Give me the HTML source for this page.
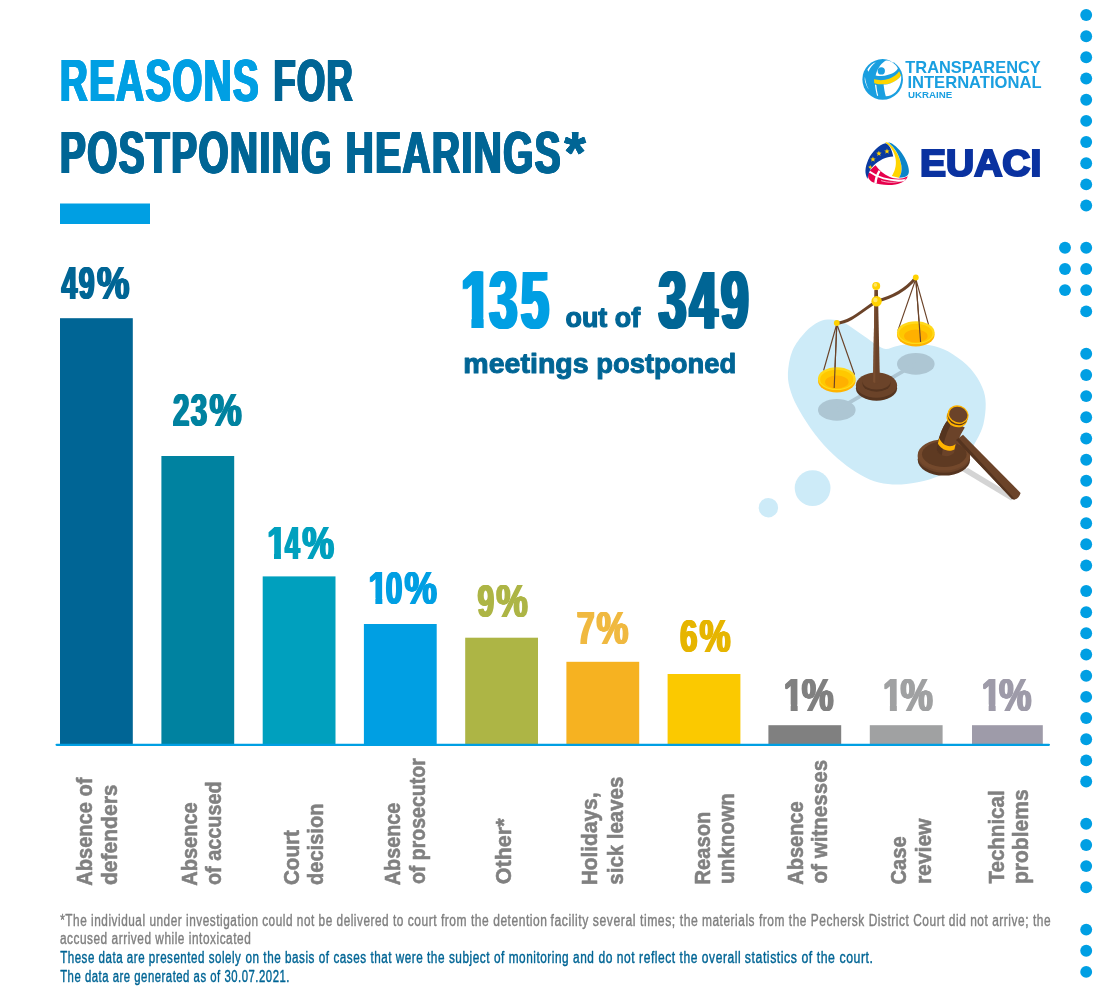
<!DOCTYPE html>
<html lang="en"><head><meta charset="utf-8"><title>Reasons for postponing hearings</title>
<style>
html,body{margin:0;padding:0;background:#fff;}
svg{display:block;}
text{font-family:"Liberation Sans",sans-serif;font-weight:bold;}
text.r{font-weight:normal;}
</style></head><body>
<svg width="1100" height="1000" viewBox="0 0 1100 1000">
<rect width="1100" height="1000" fill="#fff"/>
<defs><filter id="s5" x="-25%" y="-10%" width="150%" height="120%"><feOffset in="SourceGraphic" dx="-0.5" result="a"/><feOffset in="SourceGraphic" dx="-0.25" result="c"/><feOffset in="SourceGraphic" dx="0.25" result="e"/><feOffset in="SourceGraphic" dx="0.5" result="b"/><feMerge><feMergeNode in="a"/><feMergeNode in="c"/><feMergeNode in="SourceGraphic"/><feMergeNode in="e"/><feMergeNode in="b"/></feMerge></filter><filter id="s9" x="-25%" y="-10%" width="150%" height="120%"><feOffset in="SourceGraphic" dx="-0.9" result="a"/><feOffset in="SourceGraphic" dx="-0.45" result="c"/><feOffset in="SourceGraphic" dx="0.45" result="e"/><feOffset in="SourceGraphic" dx="0.9" result="b"/><feMerge><feMergeNode in="a"/><feMergeNode in="c"/><feMergeNode in="SourceGraphic"/><feMergeNode in="e"/><feMergeNode in="b"/></feMerge></filter><filter id="s12" x="-25%" y="-10%" width="150%" height="120%"><feOffset in="SourceGraphic" dx="-1.2" result="a"/><feOffset in="SourceGraphic" dx="-0.6" result="c"/><feOffset in="SourceGraphic" dx="0.6" result="e"/><feOffset in="SourceGraphic" dx="1.2" result="b"/><feMerge><feMergeNode in="a"/><feMergeNode in="c"/><feMergeNode in="SourceGraphic"/><feMergeNode in="e"/><feMergeNode in="b"/></feMerge></filter><filter id="s21" x="-25%" y="-10%" width="150%" height="120%"><feOffset in="SourceGraphic" dx="-2.1" result="a"/><feOffset in="SourceGraphic" dx="-1.05" result="c"/><feOffset in="SourceGraphic" dx="1.05" result="e"/><feOffset in="SourceGraphic" dx="2.1" result="b"/><feMerge><feMergeNode in="a"/><feMergeNode in="c"/><feMergeNode in="SourceGraphic"/><feMergeNode in="e"/><feMergeNode in="b"/></feMerge></filter><clipPath id="c0"><polygon points="266.42,513.90 288.07,513.90 288.07,553.26 280.95,553.26 280.95,561.40 273.97,561.40 273.97,553.26 266.42,553.26"/></clipPath><clipPath id="c1"><polygon points="367.82,558.90 389.47,558.90 389.47,598.26 382.35,598.26 382.35,606.40 375.37,606.40 375.37,598.26 367.82,598.26"/></clipPath><clipPath id="c2"><polygon points="783.12,665.20 804.77,665.20 804.77,704.56 797.65,704.56 797.65,712.70 790.67,712.70 790.67,704.56 783.12,704.56"/></clipPath><clipPath id="c3"><polygon points="882.32,665.20 903.97,665.20 903.97,704.56 896.85,704.56 896.85,712.70 889.87,712.70 889.87,704.56 882.32,704.56"/></clipPath><clipPath id="c4"><polygon points="981.12,665.20 1002.77,665.20 1002.77,704.56 995.65,704.56 995.65,712.70 988.67,712.70 988.67,704.56 981.12,704.56"/></clipPath><clipPath id="c5"><polygon points="460.31,246.60 494.06,246.60 494.06,317.83 483.65,317.83 483.65,329.60 471.41,329.60 471.41,317.83 460.31,317.83"/></clipPath></defs>
<g id="illus">
<path d="M787.9,373.6C788.2,366.7 789.6,357.5 792.5,350.6C795.4,343.7 800.8,337.0 805.2,332.2C809.6,327.4 814.8,323.9 819.0,321.8C823.2,319.7 826.7,319.5 830.5,319.5C834.3,319.5 838.2,320.3 842.0,321.8C845.8,323.3 849.7,326.2 853.5,328.7C857.3,331.2 861.2,334.1 865.0,336.8C868.8,339.5 873.0,342.8 876.5,344.8C880.0,346.8 882.2,348.8 885.7,349.0C889.2,349.2 893.0,346.8 897.2,346.0C901.4,345.2 904.9,344.3 911.0,344.3C917.1,344.3 927.1,344.4 934.0,346.0C940.9,347.6 946.3,350.2 952.4,354.0C958.5,357.8 965.8,363.4 970.8,369.0C975.8,374.6 979.8,381.6 982.3,387.4C984.8,393.1 985.5,397.4 985.7,403.5C985.9,409.6 984.9,418.1 983.4,424.2C981.9,430.3 979.4,434.9 976.5,440.3C973.6,445.7 970.6,451.4 966.2,456.4C961.8,461.4 956.2,466.4 950.1,470.2C944.0,474.0 936.7,477.1 929.4,479.4C922.1,481.7 913.3,483.2 906.4,484.0C899.5,484.8 894.1,484.8 888.0,484.0C881.9,483.2 875.7,481.9 869.6,479.4C863.5,476.9 857.3,473.2 851.2,469.0C845.1,464.8 838.9,460.0 832.8,454.1C826.7,448.2 820.0,440.7 814.4,433.4C808.8,426.1 803.3,417.3 799.4,410.4C795.5,403.5 792.8,398.1 790.9,392.0C789.0,385.9 787.6,380.5 787.9,373.6Z" fill="#cdebf8"/>
<circle cx="812.6" cy="488.1" r="17.9" fill="#cdebf8"/><circle cx="768.4" cy="507.7" r="9.7" fill="#cdebf8"/>
<g fill="#adc6d3"><ellipse cx="915.8" cy="363.9" rx="18.8" ry="10.8"/><ellipse cx="836.8" cy="409.9" rx="18.8" ry="10.8"/></g>
<path d="M836.8,409.9L915.8,363.9" stroke="#adc6d3" stroke-width="3.6" fill="none"/>
<ellipse cx="876.5" cy="388.2" rx="20.6" ry="12.6" fill="#55341f"/>
<ellipse cx="876.5" cy="385.2" rx="20.6" ry="12.6" fill="#6b4329"/>
<ellipse cx="876.5" cy="383.4" rx="14" ry="8.4" fill="#55341f"/>
<ellipse cx="876.5" cy="381.2" rx="14" ry="8.4" fill="#6b4329"/>
<path d="M874.6,290 L877.9,290 L879.9,382 Q876.5,384.5 873.1,382 Z" fill="#6b4329"/>
<path d="M874.6,290 L875.8,290 L875.3,383 Q874,383 873.1,382 Z" fill="#7a4e30"/>
<path d="M836.8,323.2 C850,322.5 861,311.5 876.5,301.2 C892,297.5 905,291 915.8,277.8" stroke="#6b4329" stroke-width="3" fill="none" stroke-linecap="round"/>
<g stroke="#6b4329" stroke-width="1.15" fill="none"><path d="M836.8,324 L823.6,370.5 M836.8,324 L834.2,388 M836.8,324 L854.6,374.8"/>
<path d="M915.8,279 L897.9,330.6 M915.8,279 L920.6,342 M915.8,279 L928.8,325.6"/></g>
<ellipse cx="836.8" cy="380.8" rx="18.8" ry="11.6" fill="#ffb400"/><ellipse cx="836.8" cy="378.6" rx="18.8" ry="11.4" fill="#ffd91a"/><ellipse cx="836.8" cy="379.40000000000003" rx="16.6" ry="9.6" fill="#ffc800"/><ellipse cx="836.8" cy="382.0" rx="11.8" ry="6.4" fill="#ffb000"/>
<ellipse cx="915.8" cy="334.8" rx="18.8" ry="11.6" fill="#ffb400"/><ellipse cx="915.8" cy="332.6" rx="18.8" ry="11.4" fill="#ffd91a"/><ellipse cx="915.8" cy="333.40000000000003" rx="16.6" ry="9.6" fill="#ffc800"/><ellipse cx="915.8" cy="336.0" rx="11.8" ry="6.4" fill="#ffb000"/>
<g stroke="#6b4329" stroke-width="1.15" fill="none"><path d="M836.8,324 L834.2,388"/><path d="M915.8,279 L920.6,342"/></g>
<g fill="#ffd200"><circle cx="876.2" cy="285.9" r="4"/><circle cx="876.6" cy="301.3" r="5.2"/><circle cx="915.8" cy="277.5" r="2.9"/><circle cx="836.8" cy="323" r="2.9"/></g>
<g fill="#ffe566"><circle cx="875.4" cy="284.9" r="1.8"/><circle cx="875.4" cy="300" r="2.2"/></g>
<path d="M962,471 L1011,500.5 L1016,497 L968,468 Z" fill="#d4d4d4"/>
<ellipse cx="943.9" cy="459.6" rx="26.2" ry="16" fill="#55341f"/>
<ellipse cx="943.9" cy="456.8" rx="26.2" ry="16" fill="#6b4329"/>
<ellipse cx="943.9" cy="455" rx="26.2" ry="15.6" fill="#74492c"/>
<ellipse cx="944.3" cy="454.2" rx="22.3" ry="12.8" fill="#5e3a22"/>
<path d="M948.5,419 C941,428 938,440 936.5,450 C940,457 949,458 954,453 C956,445 959,437 964.8,427.5 Z" fill="#6b4329"/>
<path d="M948.5,419 C941,428 938,440 936.5,450 C938,453 940,454.5 942,455 C943,443 947,430 953,421 Z" fill="#55341f"/>
<path d="M939.2,438 C942,445 950,449 955.6,444 L954.4,449.4 C948,453 940.6,449 937.9,443.6 Z" fill="#ffb400"/>
<path d="M956,440 L1012,499 Q1018,501 1020.6,493 L963,434.8 Z" fill="#6b4329"/>
<path d="M956,440 L1012,499 Q1013.6,499.6 1015,499.3 L958.6,438 Z" fill="#55341f"/>
<ellipse cx="957.0" cy="418.0" rx="10.7" ry="9.1" fill="#ffb400" transform="rotate(20 957 418)"/>
<ellipse cx="957.6" cy="416.4" rx="10.3" ry="8.7" fill="#55341f" transform="rotate(20 957.6 416.4)"/>
<ellipse cx="958.1" cy="414.6" rx="10.7" ry="9.1" fill="#ffb400" transform="rotate(20 958.1 414.6)"/>
<ellipse cx="958.3" cy="414.6" rx="9.3" ry="7.7" fill="#6b4329" transform="rotate(20 958.3 414.6)"/>
</g>
<g id="ti" transform="translate(855,52) scale(0.055)">
<circle cx="503" cy="498" r="369" fill="#1a9fe0"/>
<path d="M545,162 C590,150 625,160 650,172 L700,205 C740,235 765,265 778,300 C740,370 640,425 480,437 C440,437 400,432 375,425 C395,330 450,230 545,162 Z" fill="#fff"/>
<path d="M630,150 L700,205 L690,150 Z" fill="#fff"/>
<circle cx="478" cy="345" r="66" fill="#1a9fe0"/>
<path d="M345,497 C440,520 540,515 620,488 C700,460 770,410 803,352 L838,425 C800,490 730,540 650,567 C560,595 450,597 350,566 Z" fill="#ffd500"/>
<path d="M520,592 C570,590 610,580 650,567 C730,540 800,490 838,428 C850,520 820,640 740,725 C690,775 620,805 560,806 C540,740 528,660 520,592 Z" fill="#fff"/>
<path d="M225,322 C260,260 320,205 378,188 C320,230 270,295 245,358 Z" fill="#fff"/>
<path d="M180,452 C190,540 215,620 250,682 C215,640 185,560 176,500 Z" fill="#fff"/>
<path d="M363,590 L388,598 C395,670 405,735 422,792 L402,800 C385,735 370,660 363,590 Z" fill="#fff"/>
</g>
<g id="eu" transform="translate(858,135) scale(0.055)">
<path d="M320,548 C380,640 470,715 580,765 C680,805 800,810 905,750 C880,830 800,880 680,900 C540,925 380,905 270,860 C200,825 170,760 185,690 C215,640 265,590 320,548 Z" fill="#e6004c"/>
<path d="M392,650 C350,720 320,800 318,880" stroke="#fff" stroke-width="44" fill="none"/>
<path d="M205,665 C330,760 560,850 850,822" stroke="#fff" stroke-width="34" fill="none"/>
<path d="M420,830 C540,870 700,880 870,800" stroke="#fff" stroke-width="12" fill="none"/>
<path d="M175,800 C120,700 120,600 190,440 C260,300 380,180 500,150 C570,170 620,270 640,392 C520,390 380,460 280,560 C210,630 180,710 175,800 Z" fill="#0a3aa0"/>
<polygon points="527,246 540,280 576,282 548,305 558,340 527,320 496,340 506,305 478,282 514,280" fill="#ffd200"/>
<polygon points="380,286 393,320 429,322 401,345 411,380 380,360 349,380 359,345 331,322 367,320" fill="#ffd200"/>
<polygon points="272,391 285,425 321,427 293,450 303,485 272,465 241,485 251,450 223,427 259,425" fill="#ffd200"/>
<polygon points="222,545 236,575 262,578 240,598 222,620 200,590 185,575 210,572" fill="#ffd200"/>
<path d="M495,135 C530,125 560,140 600,180 C680,260 760,400 790,560 C800,660 780,730 742,778 L615,745 C670,660 700,560 685,440 C670,330 610,210 495,135 Z" fill="#ffd500"/>
<path d="M545,128 C640,150 740,240 830,380 C890,480 930,590 925,670 C920,740 880,775 745,778 C785,720 800,650 790,560 C765,400 690,260 600,180 C580,160 560,140 545,128 Z" fill="#0a85c9"/>
</g>
<text x="60.04" y="101.00" font-size="59.60" fill="#009fe3" textLength="199.99" lengthAdjust="spacingAndGlyphs" filter="url(#s12)" letter-spacing="2.38">REASONS</text>
<text x="273.38" y="101.00" font-size="59.60" fill="#006595" textLength="80.60" lengthAdjust="spacingAndGlyphs" filter="url(#s12)" letter-spacing="2.38">FOR</text>
<text x="59.92" y="173.00" font-size="59.60" fill="#006595" textLength="272.82" lengthAdjust="spacingAndGlyphs" filter="url(#s12)" letter-spacing="2.38">POSTPONING</text>
<text x="345.81" y="173.00" font-size="59.60" fill="#006595" textLength="216.34" lengthAdjust="spacingAndGlyphs" filter="url(#s12)" letter-spacing="2.38">HEARINGS</text>
<text x="563.94" y="173.00" font-size="59.60" fill="#006595" textLength="21.41" lengthAdjust="spacingAndGlyphs" filter="url(#s5)">*</text>
<rect x="60" y="203.5" width="90" height="20.5" fill="#009fe3"/>
<rect x="60" y="318.2" width="72.8" height="426.3" fill="#006595"/>
<rect x="161.4" y="456" width="72.8" height="288.5" fill="#0082a0"/>
<rect x="262.7" y="576.4" width="72.8" height="168.1" fill="#00a0be"/>
<rect x="363.9" y="624" width="72.8" height="120.5" fill="#009fe3"/>
<rect x="465.2" y="637.7" width="72.8" height="106.8" fill="#adb545"/>
<rect x="566.4" y="661.8" width="72.8" height="82.7" fill="#f6b221"/>
<rect x="667.6" y="674" width="72.8" height="70.5" fill="#fbc900"/>
<rect x="768.4" y="725.2" width="72.8" height="19.3" fill="#808080"/>
<rect x="869.8" y="725.2" width="72.8" height="19.3" fill="#a0a1a2"/>
<rect x="972" y="725.2" width="70.8" height="19.3" fill="#9e9ba9"/>
<line x1="56.6" y1="744.85" x2="1048.9" y2="744.85" stroke="#009fe3" stroke-width="2.3" stroke-linecap="round"/>
<text x="61.47" y="299.40" font-size="45.50" fill="#006595" textLength="34.51" lengthAdjust="spacingAndGlyphs" filter="url(#s9)" letter-spacing="2.27">49</text>
<text x="96.99" y="299.40" font-size="45.50" fill="#006595" textLength="32.47" lengthAdjust="spacingAndGlyphs" filter="url(#s9)">%</text>
<text x="172.88" y="426.00" font-size="45.50" fill="#0082a0" textLength="35.76" lengthAdjust="spacingAndGlyphs" filter="url(#s9)" letter-spacing="2.27">23</text>
<text x="209.40" y="426.00" font-size="45.50" fill="#0082a0" textLength="32.26" lengthAdjust="spacingAndGlyphs" filter="url(#s9)">%</text>
<g clip-path="url(#c0)"><text x="267.17" y="559.40" font-size="45.50" fill="#00a0be" textLength="18.95" lengthAdjust="spacingAndGlyphs" filter="url(#s9)">1</text></g>
<text x="285.10" y="559.40" font-size="45.50" fill="#00a0be" textLength="16.07" lengthAdjust="spacingAndGlyphs" filter="url(#s9)" letter-spacing="2.27">4</text>
<text x="302.21" y="559.40" font-size="45.50" fill="#00a0be" textLength="31.84" lengthAdjust="spacingAndGlyphs" filter="url(#s9)">%</text>
<g clip-path="url(#c1)"><text x="368.57" y="604.40" font-size="45.50" fill="#009fe3" textLength="18.95" lengthAdjust="spacingAndGlyphs" filter="url(#s9)">1</text></g>
<text x="385.72" y="604.40" font-size="45.50" fill="#009fe3" textLength="18.10" lengthAdjust="spacingAndGlyphs" filter="url(#s9)" letter-spacing="2.27">0</text>
<text x="404.59" y="604.40" font-size="45.50" fill="#009fe3" textLength="32.47" lengthAdjust="spacingAndGlyphs" filter="url(#s9)">%</text>
<text x="477.56" y="617.00" font-size="45.50" fill="#adb545" textLength="18.15" lengthAdjust="spacingAndGlyphs" filter="url(#s9)" letter-spacing="2.27">9</text>
<text x="496.32" y="617.00" font-size="45.50" fill="#adb545" textLength="31.52" lengthAdjust="spacingAndGlyphs" filter="url(#s9)">%</text>
<text x="576.82" y="643.60" font-size="45.50" fill="#f0b941" textLength="19.51" lengthAdjust="spacingAndGlyphs" filter="url(#s9)" letter-spacing="2.27">7</text>
<text x="596.41" y="643.60" font-size="45.50" fill="#f0b941" textLength="31.94" lengthAdjust="spacingAndGlyphs" filter="url(#s9)">%</text>
<text x="680.05" y="652.40" font-size="45.50" fill="#e6b500" textLength="19.06" lengthAdjust="spacingAndGlyphs" filter="url(#s9)" letter-spacing="2.27">6</text>
<text x="699.43" y="652.40" font-size="45.50" fill="#e6b500" textLength="31.09" lengthAdjust="spacingAndGlyphs" filter="url(#s9)">%</text>
<g clip-path="url(#c2)"><text x="783.87" y="710.70" font-size="45.50" fill="#808080" textLength="18.95" lengthAdjust="spacingAndGlyphs" filter="url(#s9)">1</text></g>
<text x="801.81" y="710.70" font-size="45.50" fill="#808080" textLength="31.84" lengthAdjust="spacingAndGlyphs" filter="url(#s9)">%</text>
<g clip-path="url(#c3)"><text x="883.07" y="710.70" font-size="45.50" fill="#a0a1a2" textLength="18.95" lengthAdjust="spacingAndGlyphs" filter="url(#s9)">1</text></g>
<text x="900.59" y="710.70" font-size="45.50" fill="#a0a1a2" textLength="32.37" lengthAdjust="spacingAndGlyphs" filter="url(#s9)">%</text>
<g clip-path="url(#c4)"><text x="981.87" y="710.70" font-size="45.50" fill="#9e9ba9" textLength="18.95" lengthAdjust="spacingAndGlyphs" filter="url(#s9)">1</text></g>
<text x="998.99" y="710.70" font-size="45.50" fill="#9e9ba9" textLength="32.47" lengthAdjust="spacingAndGlyphs" filter="url(#s9)">%</text>
<g clip-path="url(#c5)"><text x="460.95" y="327.60" font-size="81.00" fill="#009fe3" textLength="30.55" lengthAdjust="spacingAndGlyphs" filter="url(#s21)">1</text></g>
<text x="489.55" y="327.60" font-size="81.00" fill="#009fe3" textLength="62.75" lengthAdjust="spacingAndGlyphs" filter="url(#s21)" letter-spacing="5.67">35</text>
<text x="565.55" y="327.10" font-size="27.80" fill="#006595" textLength="74.60" lengthAdjust="spacingAndGlyphs" stroke="#006595" stroke-width="1.2" stroke-linejoin="round">out of</text>
<text x="658.66" y="327.60" font-size="81.00" fill="#006595" textLength="93.36" lengthAdjust="spacingAndGlyphs" filter="url(#s21)" letter-spacing="5.67">349</text>
<text x="463.32" y="372.90" font-size="28.30" fill="#006595" textLength="125.35" lengthAdjust="spacingAndGlyphs" stroke="#006595" stroke-width="1.0" stroke-linejoin="round">meetings</text>
<text x="596.19" y="372.90" font-size="28.30" fill="#006595" textLength="140.11" lengthAdjust="spacingAndGlyphs" stroke="#006595" stroke-width="1.0" stroke-linejoin="round">postponed</text>
<text transform="translate(91.92,885.72) rotate(-90)" font-size="22.40" fill="#808080" textLength="108.11" lengthAdjust="spacingAndGlyphs" stroke="#808080" stroke-width="0.55" stroke-linejoin="round">Absence of</text>
<text transform="translate(117.02,885.09) rotate(-90)" font-size="22.40" fill="#808080" textLength="100.68" lengthAdjust="spacingAndGlyphs" stroke="#808080" stroke-width="0.55" stroke-linejoin="round">defenders</text>
<text transform="translate(197.03,885.72) rotate(-90)" font-size="22.40" fill="#808080" textLength="83.43" lengthAdjust="spacingAndGlyphs" stroke="#808080" stroke-width="0.55" stroke-linejoin="round">Absence</text>
<text transform="translate(221.22,885.00) rotate(-90)" font-size="22.40" fill="#808080" textLength="103.63" lengthAdjust="spacingAndGlyphs" stroke="#808080" stroke-width="0.55" stroke-linejoin="round">of accused</text>
<text transform="translate(298.73,885.07) rotate(-90)" font-size="22.40" fill="#808080" textLength="55.05" lengthAdjust="spacingAndGlyphs" stroke="#808080" stroke-width="0.55" stroke-linejoin="round">Court</text>
<text transform="translate(323.33,885.05) rotate(-90)" font-size="22.40" fill="#808080" textLength="81.52" lengthAdjust="spacingAndGlyphs" stroke="#808080" stroke-width="0.55" stroke-linejoin="round">decision</text>
<text transform="translate(400.23,885.22) rotate(-90)" font-size="22.40" fill="#808080" textLength="82.62" lengthAdjust="spacingAndGlyphs" stroke="#808080" stroke-width="0.55" stroke-linejoin="round">Absence</text>
<text transform="translate(424.73,884.09) rotate(-90)" font-size="22.40" fill="#808080" textLength="125.91" lengthAdjust="spacingAndGlyphs" stroke="#808080" stroke-width="0.55" stroke-linejoin="round">of prosecutor</text>
<text transform="translate(510.73,884.21) rotate(-90)" font-size="22.40" fill="#808080" textLength="65.75" lengthAdjust="spacingAndGlyphs" stroke="#808080" stroke-width="0.55" stroke-linejoin="round">Other*</text>
<text transform="translate(597.43,885.32) rotate(-90)" font-size="22.40" fill="#808080" textLength="92.84" lengthAdjust="spacingAndGlyphs" stroke="#808080" stroke-width="0.55" stroke-linejoin="round">Holidays,</text>
<text transform="translate(622.52,884.64) rotate(-90)" font-size="22.40" fill="#808080" textLength="107.91" lengthAdjust="spacingAndGlyphs" stroke="#808080" stroke-width="0.55" stroke-linejoin="round">sick leaves</text>
<text transform="translate(709.73,884.57) rotate(-90)" font-size="22.40" fill="#808080" textLength="72.85" lengthAdjust="spacingAndGlyphs" stroke="#808080" stroke-width="0.55" stroke-linejoin="round">Reason</text>
<text transform="translate(733.73,884.01) rotate(-90)" font-size="22.40" fill="#808080" textLength="91.02" lengthAdjust="spacingAndGlyphs" stroke="#808080" stroke-width="0.55" stroke-linejoin="round">unknown</text>
<text transform="translate(803.33,884.72) rotate(-90)" font-size="22.40" fill="#808080" textLength="83.33" lengthAdjust="spacingAndGlyphs" stroke="#808080" stroke-width="0.55" stroke-linejoin="round">Absence</text>
<text transform="translate(827.33,883.53) rotate(-90)" font-size="22.40" fill="#808080" textLength="123.70" lengthAdjust="spacingAndGlyphs" stroke="#808080" stroke-width="0.55" stroke-linejoin="round">of witnesses</text>
<text transform="translate(906.43,884.55) rotate(-90)" font-size="22.40" fill="#808080" textLength="48.27" lengthAdjust="spacingAndGlyphs" stroke="#808080" stroke-width="0.55" stroke-linejoin="round">Case</text>
<text transform="translate(930.73,884.11) rotate(-90)" font-size="22.40" fill="#808080" textLength="65.60" lengthAdjust="spacingAndGlyphs" stroke="#808080" stroke-width="0.55" stroke-linejoin="round">review</text>
<text transform="translate(1004.02,883.55) rotate(-90)" font-size="22.40" fill="#808080" textLength="93.21" lengthAdjust="spacingAndGlyphs" stroke="#808080" stroke-width="0.55" stroke-linejoin="round">Technical</text>
<text transform="translate(1028.32,884.11) rotate(-90)" font-size="22.40" fill="#808080" textLength="94.70" lengthAdjust="spacingAndGlyphs" stroke="#808080" stroke-width="0.55" stroke-linejoin="round">problems</text>
<text y="926.10" font-size="15.60" fill="#808080" class="r" stroke="#808080" stroke-width="0.4" stroke-linejoin="round" letter-spacing="0.70"><tspan x="60.21" textLength="198.39" lengthAdjust="spacingAndGlyphs">*The individual under investigation</tspan> <tspan x="262.20" textLength="141.63" lengthAdjust="spacingAndGlyphs">could not be delivered to</tspan> <tspan x="407.69" textLength="139.73" lengthAdjust="spacingAndGlyphs">court from the detention</tspan> <tspan x="550.53" textLength="147.87" lengthAdjust="spacingAndGlyphs">facility several times; the</tspan> <tspan x="701.91" textLength="162.91" lengthAdjust="spacingAndGlyphs">materials from the Pechersk</tspan> <tspan x="868.72" textLength="182.34" lengthAdjust="spacingAndGlyphs">District Court did not arrive; the</tspan></text>
<text y="944.30" font-size="15.60" fill="#808080" class="r" stroke="#808080" stroke-width="0.4" stroke-linejoin="round" letter-spacing="0.70"><tspan x="59.90" textLength="191.40" lengthAdjust="spacingAndGlyphs">accused arrived while intoxicated</tspan></text>
<text y="963.40" font-size="15.60" fill="#006595" class="r" stroke="#006595" stroke-width="0.4" stroke-linejoin="round" letter-spacing="0.70"><tspan x="60.14" textLength="181.20" lengthAdjust="spacingAndGlyphs">These data are presented solely</tspan> <tspan x="245.51" textLength="177.84" lengthAdjust="spacingAndGlyphs">on the basis of cases that were</tspan> <tspan x="427.02" textLength="167.37" lengthAdjust="spacingAndGlyphs">the subject of monitoring and</tspan> <tspan x="598.49" textLength="142.65" lengthAdjust="spacingAndGlyphs">do not reflect the overall</tspan> <tspan x="744.86" textLength="128.62" lengthAdjust="spacingAndGlyphs">statistics of the court.</tspan></text>
<text y="982.00" font-size="15.60" fill="#006595" class="r" stroke="#006595" stroke-width="0.4" stroke-linejoin="round" letter-spacing="0.70"><tspan x="60.15" textLength="229.80" lengthAdjust="spacingAndGlyphs">The data are generated as of 30.07.2021.</tspan></text>
<text x="905.32" y="72.70" font-size="16.30" fill="#1a9fe0" textLength="135.44" lengthAdjust="spacingAndGlyphs">TRANSPARENCY</text>
<text x="907.40" y="88.10" font-size="16.30" fill="#1a9fe0" textLength="134.20" lengthAdjust="spacingAndGlyphs">INTERNATIONAL</text>
<text x="907.92" y="98.40" font-size="9.00" fill="#1a9fe0" textLength="44.26" lengthAdjust="spacingAndGlyphs">UKRAINE</text>
<text x="920.09" y="175.90" font-size="36.90" fill="#0a32a0" textLength="121.21" lengthAdjust="spacingAndGlyphs" stroke="#0a32a0" stroke-width="2.2" stroke-linejoin="miter">EUACI</text>
<g fill="#009fe3"><circle cx="1086.2" cy="15.0" r="5.95"/><circle cx="1086.2" cy="36.2" r="5.95"/><circle cx="1086.2" cy="57.3" r="5.95"/><circle cx="1086.2" cy="78.5" r="5.95"/><circle cx="1086.2" cy="99.7" r="5.95"/><circle cx="1086.2" cy="120.9" r="5.95"/><circle cx="1086.2" cy="142.0" r="5.95"/><circle cx="1086.2" cy="163.2" r="5.95"/><circle cx="1086.2" cy="184.4" r="5.95"/><circle cx="1086.2" cy="205.5" r="5.95"/><circle cx="1065" cy="247.8" r="5.95"/><circle cx="1086.2" cy="247.8" r="5.95"/><circle cx="1065" cy="269.0" r="5.95"/><circle cx="1086.2" cy="269.0" r="5.95"/><circle cx="1065" cy="290.1" r="5.95"/><circle cx="1086.2" cy="290.1" r="5.95"/><circle cx="1086.2" cy="311.4" r="5.95"/><circle cx="1086.2" cy="353.8" r="5.95"/><circle cx="1086.2" cy="375.0" r="5.95"/><circle cx="1086.2" cy="396.1" r="5.95"/><circle cx="1086.2" cy="417.3" r="5.95"/><circle cx="1086.2" cy="438.5" r="5.95"/><circle cx="1086.2" cy="459.7" r="5.95"/><circle cx="1086.2" cy="480.8" r="5.95"/><circle cx="1086.2" cy="502.0" r="5.95"/><circle cx="1086.2" cy="523.2" r="5.95"/><circle cx="1086.2" cy="544.3" r="5.95"/><circle cx="1086.2" cy="565.5" r="5.95"/><circle cx="1086.2" cy="591.0" r="5.95"/><circle cx="1086.2" cy="612.2" r="5.95"/><circle cx="1086.2" cy="633.3" r="5.95"/><circle cx="1086.2" cy="654.5" r="5.95"/><circle cx="1086.2" cy="675.7" r="5.95"/><circle cx="1086.2" cy="696.9" r="5.95"/><circle cx="1086.2" cy="718.0" r="5.95"/><circle cx="1086.2" cy="739.2" r="5.95"/><circle cx="1086.2" cy="760.4" r="5.95"/><circle cx="1086.2" cy="781.5" r="5.95"/><circle cx="1086.2" cy="823.8" r="5.95"/><circle cx="1086.2" cy="845.0" r="5.95"/><circle cx="1086.2" cy="866.1" r="5.95"/><circle cx="1086.2" cy="887.3" r="5.95"/><circle cx="1086.2" cy="929.6" r="5.95"/><circle cx="1086.2" cy="950.8" r="5.95"/><circle cx="1086.2" cy="971.9" r="5.95"/></g>
</svg>
</body></html>
